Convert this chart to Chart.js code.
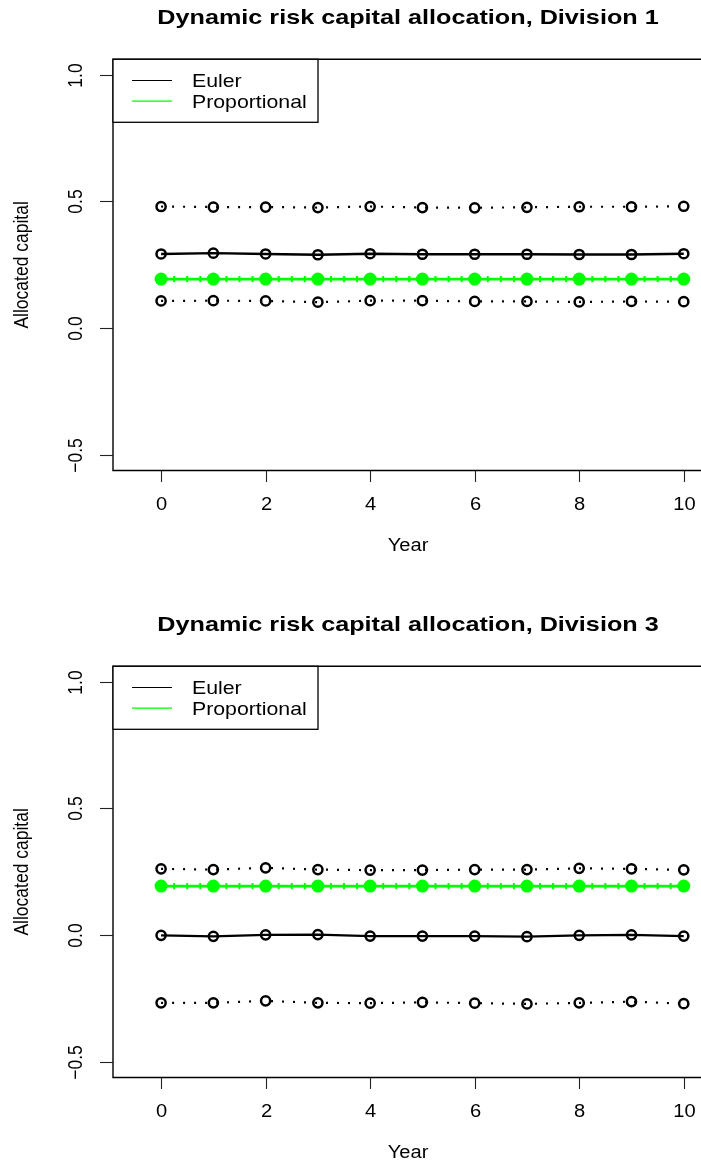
<!DOCTYPE html>
<html>
<head>
<meta charset="utf-8">
<script src="https://cdn.jsdelivr.net/npm/chart.js@4/dist/chart.umd.min.js"></script>
<style>
html,body{margin:0;padding:0;background:#fff;overflow:hidden;width:701px;height:1162px;position:relative}
canvas{position:absolute;left:0}
#c1{top:0}
#c2{top:607px}
</style>
</head>
<body>
<canvas id="c1" width="701" height="607"></canvas>
<canvas id="c2" width="701" height="607"></canvas>
<script>
// ---- data ----
const years = [0, 1, 2, 3, 4, 5, 6, 7, 8, 9, 10];
const fineYears = [0, 0.25, 0.5, 0.75, 1, 1.25, 1.5, 1.75, 2, 2.25, 2.5, 2.75, 3, 3.25, 3.5, 3.75, 4, 4.25, 4.5, 4.75, 5, 5.25, 5.5, 5.75, 6, 6.25, 6.5, 6.75, 7, 7.25, 7.5, 7.75, 8, 8.25, 8.5, 8.75, 9, 9.25, 9.5, 9.75, 10];
const xTicks = [0, 2, 4, 6, 8, 10];
const xTickLabels = ['0', '2', '4', '6', '8', '10'];
const yTicks = [-0.5, 0, 0.5, 1.0];
const yTickLabels = ['\u22120.5', '0.0', '0.5', '1.0'];
const seriesNames = ['Euler', 'Proportional'];

const div1Euler = [0.293, 0.296, 0.293, 0.290, 0.294, 0.292, 0.292, 0.292, 0.291, 0.291, 0.294];
const div1Upper = [0.480, 0.478, 0.478, 0.476, 0.480, 0.476, 0.475, 0.477, 0.479, 0.479, 0.481];
const div1Lower = [0.108, 0.109, 0.108, 0.103, 0.109, 0.109, 0.106, 0.106, 0.104, 0.106, 0.105];
const div1Prop = [0.194, 0.194, 0.194, 0.194, 0.194, 0.194, 0.194, 0.194, 0.194, 0.194, 0.194];
const div1PropFine = [0.194, 0.194, 0.194, 0.194, 0.194, 0.194, 0.194, 0.194, 0.194, 0.194, 0.194, 0.194, 0.194, 0.194, 0.194, 0.194, 0.194, 0.194, 0.194, 0.194, 0.194, 0.194, 0.194, 0.194, 0.194, 0.194, 0.194, 0.194, 0.194, 0.194, 0.194, 0.194, 0.194, 0.194, 0.194, 0.194, 0.194, 0.194, 0.194, 0.194, 0.194];

const div3Euler = [0.000, -0.004, 0.002, 0.003, -0.003, -0.003, -0.003, -0.005, 0.000, 0.002, -0.003];
const div3Upper = [0.262, 0.259, 0.266, 0.259, 0.257, 0.257, 0.259, 0.259, 0.264, 0.262, 0.258];
const div3Lower = [-0.266, -0.266, -0.258, -0.266, -0.267, -0.264, -0.267, -0.270, -0.266, -0.261, -0.269];
const div3Prop = [0.194, 0.194, 0.194, 0.194, 0.194, 0.194, 0.194, 0.194, 0.194, 0.194, 0.194];
const div3PropFine = [0.194, 0.194, 0.194, 0.194, 0.194, 0.194, 0.194, 0.194, 0.194, 0.194, 0.194, 0.194, 0.194, 0.194, 0.194, 0.194, 0.194, 0.194, 0.194, 0.194, 0.194, 0.194, 0.194, 0.194, 0.194, 0.194, 0.194, 0.194, 0.194, 0.194, 0.194, 0.194, 0.194, 0.194, 0.194, 0.194, 0.194, 0.194, 0.194, 0.194, 0.194];

// ---- styling ----
const FONT = "'Liberation Sans', Arial, Helvetica, sans-serif";
const SX = 1.15;
const GREEN = '#00ff00';

function txt(ctx, s, x, y, font, sx, align, baseline, rot) {
  ctx.save();
  ctx.translate(x, y);
  ctx.scale(sx, 1);
  if (rot) ctx.rotate(rot);
  ctx.font = font;
  ctx.textAlign = align;
  ctx.textBaseline = baseline;
  ctx.fillStyle = '#000';
  ctx.fillText(s, 0, 0);
  ctx.restore();
}

const rPlot = {
  id: 'rPlot',
  afterDraw(chart, args, opts) {
    const ctx = chart.ctx;
    const a = chart.chartArea;
    const xs = chart.scales.x, ys = chart.scales.y;
    ctx.save();
    // box: left, bottom, top (right edge lies outside the frame)
    ctx.strokeStyle = '#000';
    ctx.lineWidth = 1.4;
    ctx.beginPath();
    ctx.moveTo(a.right + 2, a.top);
    ctx.lineTo(a.left, a.top);
    ctx.lineTo(a.left, a.bottom);
    ctx.lineTo(a.right + 2, a.bottom);
    ctx.stroke();
    // x ticks
    ctx.lineWidth = 1.1;
    ctx.strokeStyle = '#222';
    xTicks.forEach((v, i) => {
      const px = Math.round(xs.getPixelForValue(v)) + 0.5;
      ctx.beginPath();
      ctx.moveTo(px, a.bottom);
      ctx.lineTo(px, a.bottom + 11.5);
      ctx.stroke();
      txt(ctx, xTickLabels[i], px, a.bottom + 39, '17.5px ' + FONT, SX, 'center', 'alphabetic');
    });
    // y ticks
    yTicks.forEach((v, i) => {
      const py = Math.round(ys.getPixelForValue(v)) + 0.5;
      ctx.beginPath();
      ctx.moveTo(a.left, py);
      ctx.lineTo(a.left - 13, py);
      ctx.stroke();
      txt(ctx, yTickLabels[i], 81.7, py, '17.5px ' + FONT, SX, 'center', 'alphabetic', -Math.PI / 2);
    });
    // axis titles
    txt(ctx, 'Year', 408, a.bottom + 80.5, '17.5px ' + FONT, SX, 'center', 'alphabetic');
    txt(ctx, 'Allocated capital', 28, (a.top + a.bottom) / 2, '17.5px ' + FONT, SX, 'center', 'alphabetic', -Math.PI / 2);
    // main title
    txt(ctx, opts.title, 408, 24, 'bold 21px ' + FONT, 1.2, 'center', 'alphabetic');
    // legend
    const lx0 = a.left, ly0 = a.top, lx1 = 318, ly1 = 122.3;
    ctx.fillStyle = '#fff';
    ctx.fillRect(lx0, ly0, lx1 - lx0, ly1 - ly0);
    ctx.strokeStyle = '#000';
    ctx.lineWidth = 1.3;
    ctx.strokeRect(lx0, ly0, lx1 - lx0, ly1 - ly0);
    const legendColors = ['#000', GREEN];
    const rows = [80.5, 101.2];
    seriesNames.forEach((name, i) => {
      ctx.strokeStyle = legendColors[i];
      ctx.lineWidth = 1.2;
      ctx.beginPath();
      ctx.moveTo(132, rows[i]);
      ctx.lineTo(172, rows[i]);
      ctx.stroke();
      txt(ctx, name, 192, rows[i] + 6.8, '18.5px ' + FONT, SX, 'left', 'alphabetic');
    });
    ctx.restore();
  }
};

function pts(xv, yv) { return xv.map((x, i) => ({ x: x, y: yv[i] })); }

function makeChart(id, title, euler, upper, lower, prop, propFine) {
  const openCircle = {
    pointRadius: 4.6,
    pointBorderWidth: 2.5,
    pointBackgroundColor: 'rgba(0,0,0,0)',
    pointBorderColor: '#000',
    borderColor: '#000',
    tension: 0,
    fill: false
  };
  return new Chart(document.getElementById(id), {
    type: 'line',
    data: {
      datasets: [
        Object.assign({ label: 'Upper', data: pts(years, upper), borderWidth: 2.2, borderDash: [2, 9] }, openCircle),
        Object.assign({ label: 'Lower', data: pts(years, lower), borderWidth: 2.2, borderDash: [2, 9] }, openCircle),
        Object.assign({ label: seriesNames[0], data: pts(years, euler), borderWidth: 2.3 }, openCircle),
        {
          label: seriesNames[1] + ' path', data: pts(fineYears, propFine),
          borderColor: GREEN, borderWidth: 2.6, tension: 0, fill: false,
          pointStyle: 'line', pointRotation: 90, pointRadius: 3.2, pointBorderWidth: 2,
          pointBorderColor: GREEN, pointBackgroundColor: GREEN
        },
        {
          label: seriesNames[1], data: pts(years, prop), showLine: false,
          pointRadius: 6.5, pointBorderWidth: 0, pointBackgroundColor: GREEN, pointBorderColor: GREEN
        }
      ]
    },
    options: {
      responsive: false,
      animation: false,
      devicePixelRatio: 1,
      events: [],
      layout: { autoPadding: false, padding: { left: 113, top: 59.3, right: 0, bottom: 607 - 470.5 } },
      scales: {
        x: { type: 'linear', min: -0.92, max: 10.33, display: false },
        y: { type: 'linear', min: -0.56, max: 1.06, display: false }
      },
      plugins: {
        legend: { display: false },
        tooltip: { enabled: false },
        title: { display: false },
        rPlot: { title: title }
      }
    },
    plugins: [rPlot]
  });
}

makeChart('c1', 'Dynamic risk capital allocation, Division 1', div1Euler, div1Upper, div1Lower, div1Prop, div1PropFine);
makeChart('c2', 'Dynamic risk capital allocation, Division 3', div3Euler, div3Upper, div3Lower, div3Prop, div3PropFine);
</script>
</body>
</html>
